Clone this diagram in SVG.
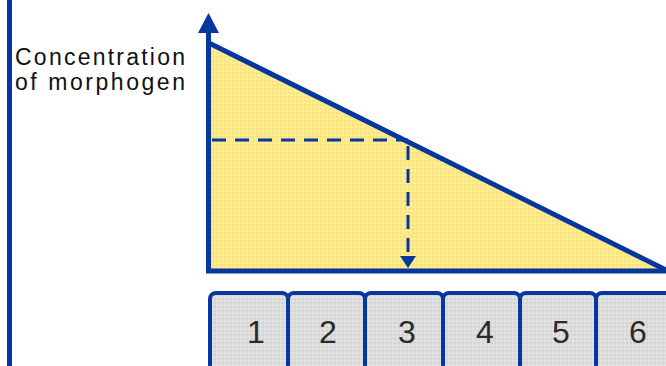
<svg xmlns="http://www.w3.org/2000/svg" width="666" height="366" viewBox="0 0 666 366">
<defs>
<pattern id="dots" width="4" height="4" patternUnits="userSpaceOnUse">
<rect width="4" height="4" fill="#fdec86"/>
<circle cx="1" cy="1" r="0.7" fill="#f5c98a"/>
<circle cx="3" cy="3" r="0.7" fill="#fff4a8"/>
</pattern>
<pattern id="gdots" width="4" height="4" patternUnits="userSpaceOnUse">
<rect width="4" height="4" fill="#dcdcdc"/>
<circle cx="1" cy="1" r="0.7" fill="#f0f0f0"/>
<circle cx="3" cy="3" r="0.7" fill="#c8c8c8"/>
</pattern>
</defs>
<style>
.ax{stroke:#0636a0;stroke-width:5;fill:none}
.dash{stroke:#0636a0;stroke-width:3;fill:none;stroke-dasharray:14 9}
.head{fill:#0636a0}
.box{fill:url(#gdots);stroke:#0636a0;stroke-width:4}
.num{font-family:"Liberation Sans",Arial,sans-serif;font-size:32px;fill:#2a2a2a;text-anchor:middle}
.lbl{font-family:"Liberation Sans",Arial,sans-serif;font-size:23px;fill:#111111}
</style>
<rect width="666" height="366" fill="#ffffff"/>
<rect x="7" y="0" width="5" height="366" fill="#0636a0"/>
<g id="label">
<text class="lbl" x="15" y="65" textLength="170" lengthAdjust="spacing">Concentration</text>
<text class="lbl" x="15" y="90" textLength="170" lengthAdjust="spacing">of morphogen</text>
</g>
<g id="gradient">
<polygon points="210,43 666,270 210,270" fill="url(#dots)"/>
<line x1="209" y1="43" x2="666" y2="270" class="ax" stroke-width="4"/>
</g>
<g id="connectors">
<line x1="208.5" y1="28" x2="208.5" y2="273" class="ax"/>
<polygon class="head" points="208.5,13 198,33 219,33"/>
<line x1="206" y1="271" x2="666" y2="271" class="ax"/>
<line x1="212" y1="140" x2="408" y2="140" class="dash"/>
<line x1="408" y1="146" x2="408" y2="258" class="dash"/>
<polygon class="head" points="408,268 400,256 416,256"/>
</g>
<g id="box1"><rect class="box" x="210" y="293" width="78" height="90" rx="6"/><text class="num" x="256" y="343">1</text></g>
<g id="box2"><rect class="box" x="288" y="293" width="77" height="90" rx="6"/><text class="num" x="328" y="343">2</text></g>
<g id="box3"><rect class="box" x="365" y="293" width="78" height="90" rx="6"/><text class="num" x="407" y="343">3</text></g>
<g id="box4"><rect class="box" x="443" y="293" width="77" height="90" rx="6"/><text class="num" x="485" y="343">4</text></g>
<g id="box5"><rect class="box" x="520" y="293" width="76" height="90" rx="6"/><text class="num" x="561" y="343">5</text></g>
<g id="box6"><rect class="box" x="596" y="293" width="80" height="90" rx="6"/><text class="num" x="638" y="343">6</text></g>
</svg>
